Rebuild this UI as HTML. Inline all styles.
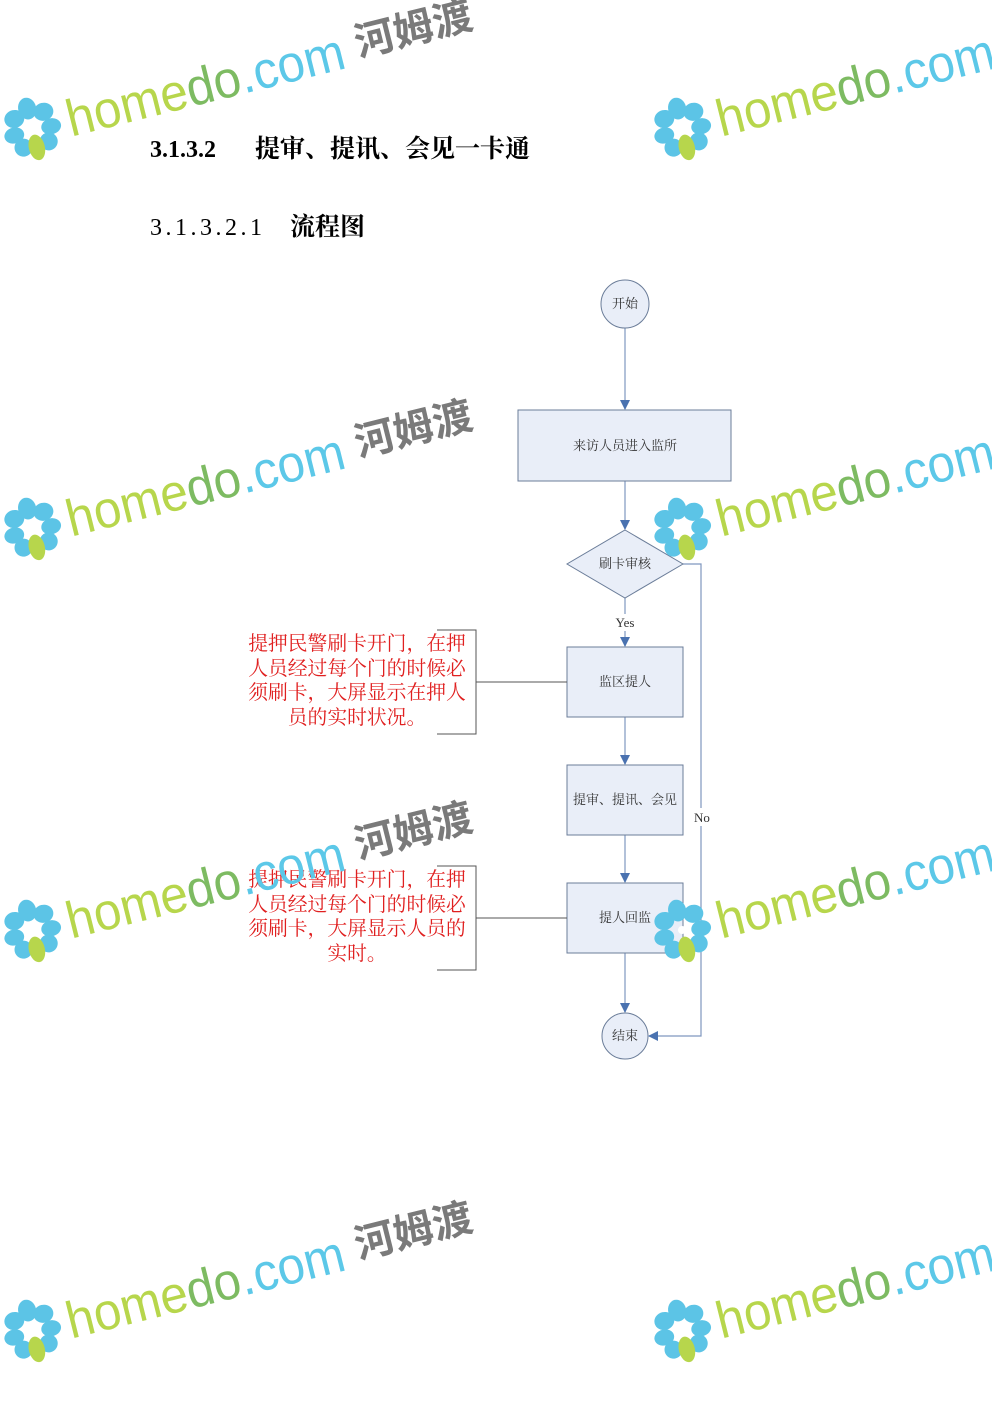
<!DOCTYPE html>
<html><head><meta charset="utf-8"><style>
html,body{margin:0;padding:0;background:#fff;}
body{width:992px;height:1403px;overflow:hidden;position:relative;}
svg{position:absolute;left:0;top:0;}
</style></head><body>
<svg width="992" height="1403" viewBox="0 0 992 1403" xmlns="http://www.w3.org/2000/svg">
<defs>
<marker id="ar" markerWidth="10" markerHeight="10" refX="9" refY="5" orient="auto" markerUnits="userSpaceOnUse">
<path d="M0,0 L10,5 L0,10 z" fill="#4a72b0"/></marker>
</defs>
<text x="150" y="157" font-family="Liberation Serif, Noto Serif CJK SC, serif" font-size="24" font-weight="bold" fill="#000">3.1.3.2</text>
<text x="255" y="157" font-family="Liberation Serif, Noto Serif CJK SC, serif" font-size="25" font-weight="bold" fill="#000" textLength="275">提审、提讯、会见一卡通</text>
<text x="150" y="235" font-family="Liberation Serif, Noto Serif CJK SC, serif" font-size="24" fill="#000" textLength="112">3.1.3.2.1</text>
<text x="290" y="235" font-family="Liberation Serif, Noto Serif CJK SC, serif" font-size="25" font-weight="bold" fill="#000">流程图</text>

<g stroke="#7f97bf" stroke-width="1.2" fill="none">
<line x1="625" y1="328" x2="625" y2="409" marker-end="url(#ar)"/>
<line x1="625" y1="481" x2="625" y2="529" marker-end="url(#ar)"/>
<line x1="625" y1="598" x2="625" y2="614"/>
<line x1="625" y1="631" x2="625" y2="646" marker-end="url(#ar)"/>
<line x1="625" y1="717" x2="625" y2="764" marker-end="url(#ar)"/>
<line x1="625" y1="835" x2="625" y2="882" marker-end="url(#ar)"/>
<line x1="625" y1="953" x2="625" y2="1012" marker-end="url(#ar)"/>
<polyline points="683,564 701,564 701,808"/>
<polyline points="701,826 701,1036 649,1036" marker-end="url(#ar)"/>
</g>
<g stroke="#6b7d99" stroke-width="1" fill="#e9eef8">
<circle cx="625" cy="304" r="24"/>
<rect x="518" y="410" width="213" height="71"/>
<polygon points="625,530 683,564 625,598 567,564"/>
<rect x="567" y="647" width="116" height="70"/>
<rect x="567" y="765" width="116" height="70"/>
<rect x="567" y="883" width="116" height="70"/>
<circle cx="625" cy="1036" r="23"/>
</g>
<g font-family="Liberation Serif, Noto Serif CJK SC, serif" font-size="13" fill="#333" text-anchor="middle">
<text x="625" y="308">开始</text>
<text x="625" y="450">来访人员进入监所</text>
<text x="625" y="568">刷卡审核</text>
<text x="625" y="627">Yes</text>
<text x="625" y="686">监区提人</text>
<text x="625" y="804">提审、提讯、会见</text>
<text x="625" y="922">提人回监</text>
<text x="625" y="1040">结束</text>
<text x="702" y="822">No</text>
</g>
<g stroke="#555" stroke-width="1" fill="none">
<polyline points="437,630 476,630 476,734 437,734"/>
<line x1="476" y1="682" x2="567" y2="682"/>
<polyline points="437,866 476,866 476,970 437,970"/>
<line x1="476" y1="918" x2="567" y2="918"/>
</g>
<g font-family="Liberation Serif, Noto Serif CJK SC, serif" font-size="19.8" fill="#e02020" text-anchor="middle">
<text x="357" y="650">提押民警刷卡开门，在押</text>
<text x="357" y="675">人员经过每个门的时候必</text>
<text x="357" y="699">须刷卡，大屏显示在押人</text>
<text x="357" y="724">员的实时状况。</text>
<text x="357" y="886">提押民警刷卡开门，在押</text>
<text x="357" y="911">人员经过每个门的时候必</text>
<text x="357" y="935">须刷卡，大屏显示人员的</text>
<text x="357" y="960">实时。</text>
</g>

<g transform="translate(32,128) rotate(-14)">
<g fill="#5cc4e6"><ellipse cx="0" cy="-20" rx="9" ry="11"/><ellipse cx="15" cy="-13" rx="10" ry="9"/><ellipse cx="19" cy="3" rx="10" ry="8"/><ellipse cx="13" cy="17" rx="9" ry="9"/><ellipse cx="-15" cy="-13" rx="10" ry="9"/><ellipse cx="-19" cy="3" rx="10" ry="8"/><ellipse cx="-13" cy="17" rx="9" ry="9"/></g>
<ellipse cx="0" cy="20" rx="8" ry="13" fill="#b7d64c"/><circle cx="0" cy="0" r="4" fill="#fff"/>
<text x="36" y="18" font-family="Liberation Sans, sans-serif" font-size="52" textLength="285" lengthAdjust="spacingAndGlyphs"><tspan fill="#b7d64c">home</tspan><tspan fill="#7dbb62">do</tspan><tspan fill="#5cc8e8">.com</tspan></text>
<text x="334" y="10" font-family="Liberation Sans, Noto Sans CJK SC, sans-serif" font-size="40" font-weight="bold" fill="#7a7a7a">河姆渡</text>
</g>
<g transform="translate(682,128) rotate(-14)">
<g fill="#5cc4e6"><ellipse cx="0" cy="-20" rx="9" ry="11"/><ellipse cx="15" cy="-13" rx="10" ry="9"/><ellipse cx="19" cy="3" rx="10" ry="8"/><ellipse cx="13" cy="17" rx="9" ry="9"/><ellipse cx="-15" cy="-13" rx="10" ry="9"/><ellipse cx="-19" cy="3" rx="10" ry="8"/><ellipse cx="-13" cy="17" rx="9" ry="9"/></g>
<ellipse cx="0" cy="20" rx="8" ry="13" fill="#b7d64c"/><circle cx="0" cy="0" r="4" fill="#fff"/>
<text x="36" y="18" font-family="Liberation Sans, sans-serif" font-size="52" textLength="285" lengthAdjust="spacingAndGlyphs"><tspan fill="#b7d64c">home</tspan><tspan fill="#7dbb62">do</tspan><tspan fill="#5cc8e8">.com</tspan></text>
</g>
<g transform="translate(32,528) rotate(-14)">
<g fill="#5cc4e6"><ellipse cx="0" cy="-20" rx="9" ry="11"/><ellipse cx="15" cy="-13" rx="10" ry="9"/><ellipse cx="19" cy="3" rx="10" ry="8"/><ellipse cx="13" cy="17" rx="9" ry="9"/><ellipse cx="-15" cy="-13" rx="10" ry="9"/><ellipse cx="-19" cy="3" rx="10" ry="8"/><ellipse cx="-13" cy="17" rx="9" ry="9"/></g>
<ellipse cx="0" cy="20" rx="8" ry="13" fill="#b7d64c"/><circle cx="0" cy="0" r="4" fill="#fff"/>
<text x="36" y="18" font-family="Liberation Sans, sans-serif" font-size="52" textLength="285" lengthAdjust="spacingAndGlyphs"><tspan fill="#b7d64c">home</tspan><tspan fill="#7dbb62">do</tspan><tspan fill="#5cc8e8">.com</tspan></text>
<text x="334" y="10" font-family="Liberation Sans, Noto Sans CJK SC, sans-serif" font-size="40" font-weight="bold" fill="#7a7a7a">河姆渡</text>
</g>
<g transform="translate(682,528) rotate(-14)">
<g fill="#5cc4e6"><ellipse cx="0" cy="-20" rx="9" ry="11"/><ellipse cx="15" cy="-13" rx="10" ry="9"/><ellipse cx="19" cy="3" rx="10" ry="8"/><ellipse cx="13" cy="17" rx="9" ry="9"/><ellipse cx="-15" cy="-13" rx="10" ry="9"/><ellipse cx="-19" cy="3" rx="10" ry="8"/><ellipse cx="-13" cy="17" rx="9" ry="9"/></g>
<ellipse cx="0" cy="20" rx="8" ry="13" fill="#b7d64c"/><circle cx="0" cy="0" r="4" fill="#fff"/>
<text x="36" y="18" font-family="Liberation Sans, sans-serif" font-size="52" textLength="285" lengthAdjust="spacingAndGlyphs"><tspan fill="#b7d64c">home</tspan><tspan fill="#7dbb62">do</tspan><tspan fill="#5cc8e8">.com</tspan></text>
</g>
<g transform="translate(32,930) rotate(-14)">
<g fill="#5cc4e6"><ellipse cx="0" cy="-20" rx="9" ry="11"/><ellipse cx="15" cy="-13" rx="10" ry="9"/><ellipse cx="19" cy="3" rx="10" ry="8"/><ellipse cx="13" cy="17" rx="9" ry="9"/><ellipse cx="-15" cy="-13" rx="10" ry="9"/><ellipse cx="-19" cy="3" rx="10" ry="8"/><ellipse cx="-13" cy="17" rx="9" ry="9"/></g>
<ellipse cx="0" cy="20" rx="8" ry="13" fill="#b7d64c"/><circle cx="0" cy="0" r="4" fill="#fff"/>
<text x="36" y="18" font-family="Liberation Sans, sans-serif" font-size="52" textLength="285" lengthAdjust="spacingAndGlyphs"><tspan fill="#b7d64c">home</tspan><tspan fill="#7dbb62">do</tspan><tspan fill="#5cc8e8">.com</tspan></text>
<text x="334" y="10" font-family="Liberation Sans, Noto Sans CJK SC, sans-serif" font-size="40" font-weight="bold" fill="#7a7a7a">河姆渡</text>
</g>
<g transform="translate(682,930) rotate(-14)">
<g fill="#5cc4e6"><ellipse cx="0" cy="-20" rx="9" ry="11"/><ellipse cx="15" cy="-13" rx="10" ry="9"/><ellipse cx="19" cy="3" rx="10" ry="8"/><ellipse cx="13" cy="17" rx="9" ry="9"/><ellipse cx="-15" cy="-13" rx="10" ry="9"/><ellipse cx="-19" cy="3" rx="10" ry="8"/><ellipse cx="-13" cy="17" rx="9" ry="9"/></g>
<ellipse cx="0" cy="20" rx="8" ry="13" fill="#b7d64c"/><circle cx="0" cy="0" r="4" fill="#fff"/>
<text x="36" y="18" font-family="Liberation Sans, sans-serif" font-size="52" textLength="285" lengthAdjust="spacingAndGlyphs"><tspan fill="#b7d64c">home</tspan><tspan fill="#7dbb62">do</tspan><tspan fill="#5cc8e8">.com</tspan></text>
</g>
<g transform="translate(32,1330) rotate(-14)">
<g fill="#5cc4e6"><ellipse cx="0" cy="-20" rx="9" ry="11"/><ellipse cx="15" cy="-13" rx="10" ry="9"/><ellipse cx="19" cy="3" rx="10" ry="8"/><ellipse cx="13" cy="17" rx="9" ry="9"/><ellipse cx="-15" cy="-13" rx="10" ry="9"/><ellipse cx="-19" cy="3" rx="10" ry="8"/><ellipse cx="-13" cy="17" rx="9" ry="9"/></g>
<ellipse cx="0" cy="20" rx="8" ry="13" fill="#b7d64c"/><circle cx="0" cy="0" r="4" fill="#fff"/>
<text x="36" y="18" font-family="Liberation Sans, sans-serif" font-size="52" textLength="285" lengthAdjust="spacingAndGlyphs"><tspan fill="#b7d64c">home</tspan><tspan fill="#7dbb62">do</tspan><tspan fill="#5cc8e8">.com</tspan></text>
<text x="334" y="10" font-family="Liberation Sans, Noto Sans CJK SC, sans-serif" font-size="40" font-weight="bold" fill="#7a7a7a">河姆渡</text>
</g>
<g transform="translate(682,1330) rotate(-14)">
<g fill="#5cc4e6"><ellipse cx="0" cy="-20" rx="9" ry="11"/><ellipse cx="15" cy="-13" rx="10" ry="9"/><ellipse cx="19" cy="3" rx="10" ry="8"/><ellipse cx="13" cy="17" rx="9" ry="9"/><ellipse cx="-15" cy="-13" rx="10" ry="9"/><ellipse cx="-19" cy="3" rx="10" ry="8"/><ellipse cx="-13" cy="17" rx="9" ry="9"/></g>
<ellipse cx="0" cy="20" rx="8" ry="13" fill="#b7d64c"/><circle cx="0" cy="0" r="4" fill="#fff"/>
<text x="36" y="18" font-family="Liberation Sans, sans-serif" font-size="52" textLength="285" lengthAdjust="spacingAndGlyphs"><tspan fill="#b7d64c">home</tspan><tspan fill="#7dbb62">do</tspan><tspan fill="#5cc8e8">.com</tspan></text>
</g>
</svg>
</body></html>
